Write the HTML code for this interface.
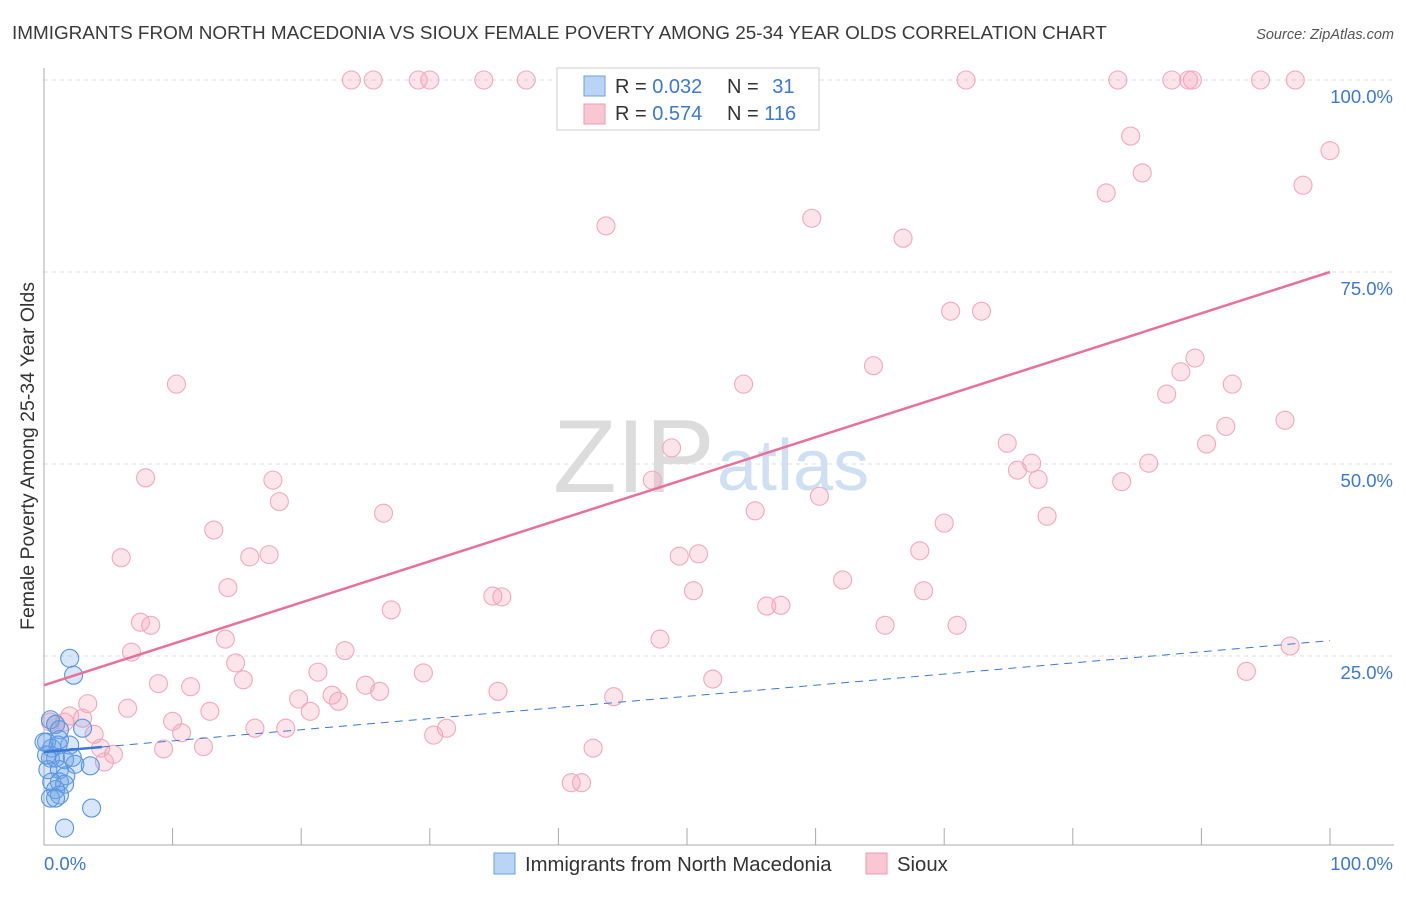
<!DOCTYPE html>
<html><head><meta charset="utf-8"><style>
body{margin:0;background:#fff;font-family:"Liberation Sans",sans-serif;}
svg text{font-family:"Liberation Sans",sans-serif;}
</style></head><body>
<svg id="chart" width="1406" height="892" xmlns="http://www.w3.org/2000/svg">
<text x="12" y="39" font-size="18.9" fill="#3a3a3a">IMMIGRANTS FROM NORTH MACEDONIA VS SIOUX FEMALE POVERTY AMONG 25-34 YEAR OLDS CORRELATION CHART</text>
<text x="1394" y="39" font-size="14.5" fill="#555" text-anchor="end" font-style="italic">Source: ZipAtlas.com</text>
<text transform="translate(34,456) rotate(-90)" font-size="19.5" fill="#333" text-anchor="middle">Female Poverty Among 25-34 Year Olds</text>
<g>
<text x="553" y="492" font-size="104" fill="#dcdcdc" font-family="Liberation Serif, serif">ZIP</text>
<text x="717" y="490" font-size="72" fill="#cfe0f3">atlas</text>
</g>
<g id="grid"></g><g id="axes"></g><g id="pts"></g><g id="lines"></g>
<g>
<rect x="557" y="68" width="262" height="62" fill="#fff" stroke="#ccc"/>
<rect x="584" y="76" width="21" height="20" fill="#b9d4f5" stroke="#6ea0e0"/>
<text x="615" y="93" font-size="20" fill="#333">R = <tspan fill="#3b78d8">0.032</tspan></text>
<text x="727" y="93" font-size="20" fill="#333">N = <tspan fill="#3b78d8" dx="8">31</tspan></text>
<rect x="584" y="104" width="21" height="20" fill="#f9c6d4" stroke="#ee9ab3"/>
<text x="615" y="120" font-size="20" fill="#333">R = <tspan fill="#3b78d8">0.574</tspan></text>
<text x="727" y="120" font-size="20" fill="#333">N = <tspan fill="#3b78d8">116</tspan></text>
</g>
<g>
<rect x="494" y="853" width="21" height="21" fill="#b9d4f5" stroke="#6ea0e0"/>
<text x="525" y="871" font-size="20.3" fill="#333">Immigrants from North Macedonia</text>
<rect x="866" y="853" width="21" height="21" fill="#f9c6d4" stroke="#ee9ab3"/>
<text x="897" y="871" font-size="20.3" fill="#333">Sioux</text>
</g>
</svg>
<script>
const yTicks=[25,50,75,100];
const yTickLabels=["25.0%","50.0%","75.0%","100.0%"];
const xEndLabels=["0.0%","100.0%"];
const siouxX=[23.9,25.6,29.1,30.0,34.2,37.5,71.7,83.5,87.7,89.0,89.3,94.6,97.3,54.2,40.9,84.5,85.4,82.6,100,97.9,43.7,59.7,66.8,70.5,72.9,64.5,54.4,10.3,87.3,88.4,89.5,92.4,96.5,91.9,90.4,74.9,76.8,75.7,77.3,85.9,83.8,48.8,47.3,7.9,17.8,18.3,26.4,13.2,78.0,70.0,55.3,60.3,6.0,16.0,17.5,14.3,49.4,50.9,68.1,62.1,50.5,68.4,56.2,57.3,27.0,34.9,35.6,7.5,8.3,14.1,47.9,65.4,71.0,96.9,6.8,23.4,14.9,21.3,29.5,93.5,8.9,11.4,15.5,25.0,26.1,35.3,52.0,19.8,22.4,22.9,20.7,44.3,6.5,12.9,3.4,10.0,10.7,16.4,18.8,31.3,30.3,12.4,9.3,4.4,5.4,4.7,3.9,3.0,2.0,1.6,0.9,0.5,42.7,41.0,41.8];
const siouxY=[100,100,100,100,100,100,100,100,100,100,100,100,100,95.7,100,92.7,87.9,85.3,90.8,86.3,81.0,82.0,79.4,69.9,69.9,62.8,60.4,60.4,59.1,62.0,63.8,60.4,55.7,54.9,52.6,52.7,50.1,49.2,48.0,50.1,47.7,52.1,47.9,48.2,47.9,45.1,43.6,41.4,43.2,42.3,43.9,45.8,37.8,37.9,38.2,33.9,38.0,38.3,38.7,34.9,33.5,33.5,31.5,31.6,31.0,32.8,32.7,29.4,29.0,27.2,27.2,29.0,29.0,26.3,25.5,25.7,24.1,22.9,22.8,23.0,21.4,21.0,21.9,21.2,20.4,20.4,22.0,19.4,19.9,19.1,17.8,19.7,18.2,17.8,18.8,16.5,15.0,15.6,15.6,15.6,14.7,13.2,12.9,13.0,12.2,11.2,14.8,16.9,17.2,16.4,16.1,16.4,13.0,8.5,8.5];
const macX=[2.0,2.3,0.5,0.9,1.2,0.2,0.6,1.1,2.0,3.0,0.5,0.9,1.6,2.4,3.6,0.3,1.2,1.7,0.6,1.2,1.6,0.9,1.2,0.5,0.9,3.7,1.6,0,0.2,2.2,1.2];
const macY=[24.7,22.5,16.7,16.1,15.4,13.8,13.0,13.4,13.4,15.6,11.7,11.7,11.5,10.9,10.7,10.2,10.2,9.4,8.6,8.6,8.3,7.6,6.9,6.5,6.5,5.2,2.6,13.8,12.1,11.8,14.1];
const siouxTrend=[21.2,75.0];
const macTrend=[12.5,27.0];
const X0=44,X1=1330,Y0=848,Y100=80;
const sx=v=>X0+(X1-X0)*v/100, sy=v=>Y0-(Y0-Y100)*v/100;
const NS="http://www.w3.org/2000/svg";
function mk(tag,attrs,parent,text){const e=document.createElementNS(NS,tag);for(const k in attrs)e.setAttribute(k,attrs[k]);if(text!==undefined)e.textContent=text;document.getElementById(parent).appendChild(e);return e;}
yTicks.forEach((t,i)=>{
 const g=mk('line',{x1:X0,x2:1394,y1:sy(t),y2:sy(t),stroke:'#ddd','stroke-dasharray':'4,4'},'grid');
 
 
 const l=mk('text',{x:1393,y:sy(t)+23,'font-size':18.5,fill:'#3b78d8','text-anchor':'end'},'axes',yTickLabels[i]);
 
 
});
const ax=mk('line',{x1:X0,x2:X0,y1:68,y2:845,stroke:'#aaa'},'axes');


const bx=mk('line',{x1:X0,x2:1394,y1:845,y2:845,stroke:'#aaa'},'axes');


for(let i=0;i<=10;i++){
 const t=mk('line',{x1:sx(i*10),x2:sx(i*10),y1:828,y2:845,stroke:'#aaa'},'axes');
 
 
}
const xl0=mk('text',{x:44,y:870,'font-size':18.5,fill:'#3b78d8'},'axes',xEndLabels[0]);


const xl1=mk('text',{x:1393,y:870,'font-size':18.5,fill:'#3b78d8','text-anchor':'end'},'axes',xEndLabels[1]);


siouxX.forEach((x,i)=>{
 const c=mk('circle',{cx:sx(x),cy:sy(siouxY[i]),r:9,fill:'rgba(246,165,190,0.3)',stroke:'#f2a8be','stroke-width':1.1},'pts');
 
 
});
macX.forEach((x,i)=>{
 const c=mk('circle',{cx:sx(x),cy:sy(macY[i]),r:9,fill:'rgba(110,165,230,0.28)',stroke:'#5b95e0','stroke-width':1.1},'pts');
 
 
});
const st=mk('line',{x1:sx(0),y1:sy(siouxTrend[0]),x2:sx(100),y2:sy(siouxTrend[1]),stroke:'#e8709a','stroke-width':2.5},'lines');


const mv=v=>macTrend[0]+(macTrend[1]-macTrend[0])*v/100;
const ms=mk('line',{x1:sx(0),y1:sy(mv(0)),x2:sx(4.5),y2:sy(mv(4.5)),stroke:'#3b78d8','stroke-width':2.5},'lines');


const md=mk('line',{x1:sx(4.5),y1:sy(mv(4.5)),x2:sx(100),y2:sy(mv(100)),stroke:'#3b78d8','stroke-width':1,'stroke-dasharray':'8,6'},'lines');


</script>
</body></html>
